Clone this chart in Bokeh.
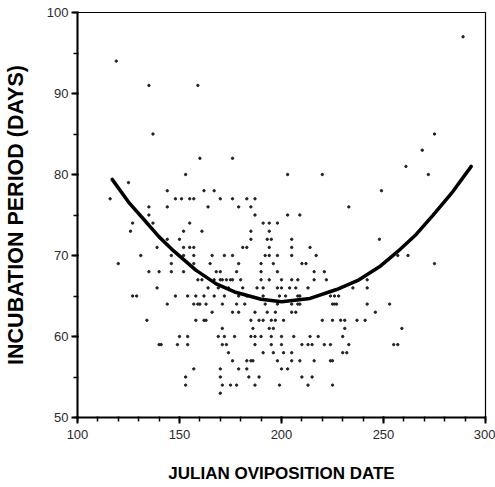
from bokeh.plotting import figure
from bokeh.models import Range1d, SingleIntervalTicker, ColumnDataSource
from bokeh.embed import file_html
from bokeh.resources import INLINE

# Incubation period (days) -> Julian oviposition dates observed with that period
dates_by_days = {
    97: [289],
    94: [119],
    91: [135, 159],
    85: [137, 275],
    83: [269],
    82: [160, 176],
    81: [261],
    80: [153, 203, 220, 272],
    79: [125],
    78: [144, 162, 167, 249],
    77: [116, 148, 151, 155, 157, 170, 176, 183, 187],
    76: [135, 144, 164, 179, 185, 233],
    75: [135, 187, 203, 209],
    74: [127, 137, 155, 191, 194, 198],
    73: [126, 152, 161, 185, 194],
    72: [144, 150, 185, 193, 195, 205, 248],
    71: [139, 152, 155, 157, 181, 183, 194, 205, 214],
    70: [131, 146, 152, 157, 166, 172, 176, 192, 194, 198, 205, 217, 257, 262],
    69: [120, 146, 157, 165, 179, 190, 196, 210, 212, 275],
    68: [135, 140, 146, 152, 168, 170, 178, 190, 198, 216, 221],
    67: [159, 161, 167, 170, 171, 173, 175, 176, 180, 190, 194, 200, 205, 208, 216, 222, 242],
    66: [139, 164, 169, 174, 181, 188, 191, 198, 200, 204, 207, 213, 235, 242],
    65: [127, 129, 148, 154, 158, 162, 167, 172, 179, 183, 191, 199, 202, 208, 209, 224, 226, 228],
    64: [144, 157, 159, 160, 163, 171, 178, 182, 192, 198, 205, 208, 209, 225, 226, 227, 242, 253],
    63: [166, 176, 179, 187, 193, 197, 205, 207, 246],
    62: [134, 158, 162, 163, 185, 189, 191, 195, 197, 201, 220, 225, 229, 231, 237, 241],
    61: [171, 186, 194, 196, 231, 259],
    60: [150, 154, 169, 172, 177, 185, 187, 190, 195, 200, 206, 214, 218, 230],
    59: [140, 141, 149, 154, 171, 173, 187, 195, 200, 210, 213, 215, 221, 224, 233, 255, 257],
    58: [174, 191, 196, 201, 205, 230, 232],
    57: [176, 183, 185, 186, 198, 205, 209, 216, 224, 225],
    56: [157, 170, 179, 183, 200, 203],
    55: [153, 170, 184, 189, 210, 215],
    54: [153, 171, 175, 178, 187, 199, 213, 225],
    53: [170],
}

# Fitted curve
curve_date = [117, 125, 132, 140, 147, 158, 168, 177, 190, 200, 214, 227, 238, 248, 257, 266, 274, 284, 293]
curve_days = [79.4, 76.6, 74.6, 72.3, 70.6, 68.2, 66.5, 65.5, 64.6, 64.3, 64.7, 65.8, 67.0, 68.6, 70.5, 72.6, 74.9, 77.9, 81.0]

x_ticks_interval = 50
y_ticks_interval = 10

dates = []
days = []
for d, xs in dates_by_days.items():
    for x in xs:
        dates.append(x)
        days.append(d)

src = ColumnDataSource(dict(date=dates, days=days))
curve = ColumnDataSource(dict(date=curve_date, days=curve_days))

FONT = "Liberation Sans"

p = figure(width=495, height=487, output_backend="svg", toolbar_location=None,
           x_range=Range1d(100, 300), y_range=Range1d(50, 100),
           min_border_left=77, min_border_right=10, min_border_top=12, min_border_bottom=70)
p.xgrid.grid_line_color = None
p.ygrid.grid_line_color = None
p.outline_line_color = "black"
p.outline_line_width = 1.2

p.scatter("date", "days", source=src, size=2.4, color="#222222", marker="circle")
p.line("date", "days", source=curve, line_width=3.5, color="black", line_cap="round")

p.xaxis.ticker = SingleIntervalTicker(interval=x_ticks_interval, num_minor_ticks=5)
p.yaxis.ticker = SingleIntervalTicker(interval=y_ticks_interval, num_minor_ticks=2)

for ax in (p.xaxis, p.yaxis):
    ax.axis_line_color = "black"
    ax.axis_line_width = 2
    ax.major_tick_in = 1
    ax.major_tick_out = 6
    ax.minor_tick_in = 1
    ax.minor_tick_out = 4
    ax.major_tick_line_color = "black"
    ax.minor_tick_line_color = "black"
    ax.major_tick_line_width = 2
    ax.minor_tick_line_width = 1.5
    ax.major_label_text_font = FONT
    ax.major_label_text_font_size = "13px"
    ax.major_label_text_color = "#2a2a2a"
    ax.axis_label_text_font = FONT
    ax.axis_label_text_font_style = "bold"
    ax.axis_label_text_color = "black"

p.xaxis.axis_label = "JULIAN OVIPOSITION DATE"
p.xaxis.axis_label_text_font_size = "17px"
p.xaxis.major_label_standoff = 6
p.xaxis.axis_label_standoff = 22

p.yaxis.axis_label = "INCUBATION PERIOD (DAYS)"
p.yaxis.axis_label_text_font_size = "21.5px"
p.yaxis.major_label_standoff = 3
p.yaxis.axis_label_standoff = 16

open("out.html", "w").write(file_html(p, INLINE))
